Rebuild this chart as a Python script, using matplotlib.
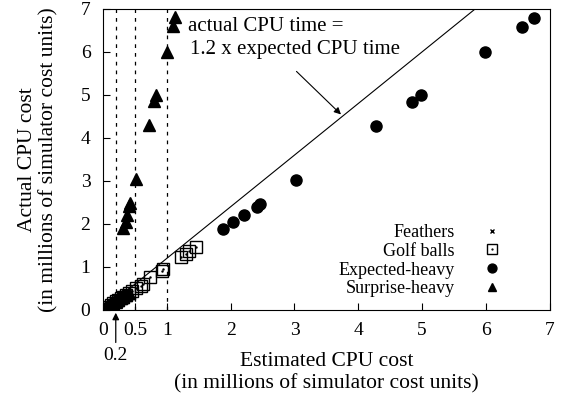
import matplotlib
matplotlib.use("Agg")
import matplotlib.pyplot as plt

plt.rcParams['font.family'] = ['Liberation Serif', 'DejaVu Serif']

# estimated vs actual CPU cost, millions of simulator cost units
feathers_x = [0.01, 0.02, 0.03, 0.04, 0.05, 0.06, 0.07, 0.08, 0.09, 0.10, 0.11, 0.12, 0.13, 0.15]
feathers_y = [0.01, 0.02, 0.03, 0.04, 0.05, 0.06, 0.07, 0.08, 0.09, 0.10, 0.11, 0.12, 0.13, 0.15]

golf_x = [0.08, 0.12, 0.16, 0.2, 0.24, 0.28, 0.32, 0.36, 0.40, 0.45, 0.52, 0.59, 0.63,
          0.74, 0.92, 0.94, 1.22, 1.30, 1.35, 1.46]
golf_y = [0.08, 0.12, 0.16, 0.2, 0.23, 0.27, 0.31, 0.35, 0.39, 0.44, 0.51, 0.56, 0.61,
          0.77, 0.91, 0.95, 1.24, 1.31, 1.38, 1.47]

exp_x = [0.05, 0.10, 0.14, 0.18, 0.22, 0.26, 0.30, 0.34,
         1.88, 2.03, 2.21, 2.41, 2.46, 3.02, 4.27, 4.84, 4.98, 5.99, 6.57, 6.76]
exp_y = [0.05, 0.10, 0.14, 0.18, 0.22, 0.26, 0.30, 0.34,
         1.89, 2.05, 2.21, 2.40, 2.47, 3.03, 4.27, 4.83, 4.99, 5.99, 6.57, 6.78]

surp_x = [0.03, 0.08, 0.12, 0.16, 0.2, 0.24, 0.28, 0.32, 0.36, 0.40,
          0.32, 0.36, 0.38, 0.40, 0.42, 0.51, 0.72, 0.80, 0.83, 1.0, 1.10, 1.13]
surp_y = [0.03, 0.08, 0.12, 0.15, 0.19, 0.23, 0.27, 0.31, 0.35, 0.40,
          1.90, 2.05, 2.21, 2.42, 2.49, 3.05, 4.29, 4.85, 5.0, 6.0, 6.6, 6.8]

slope = 1.2
guides = [0.2, 0.5, 1.0]
xticks = [0, 0.5, 1, 2, 3, 4, 5, 6, 7]
xticklabels = ['0', '0.5', '1', '2', '3', '4', '5', '6', '7']

fig = plt.figure(figsize=(5.61, 4.01), dpi=100)
ax = fig.add_axes([0.1836, 0.227, 0.7964, 0.751])

for g in guides:
    ax.axvline(g, color='black', lw=0.9, ls=(0, (3, 4)), zorder=1)
ax.plot([0, 7 / slope], [0, 7], color='black', lw=0.8, zorder=1)

h_f, = ax.plot(feathers_x, feathers_y, 'x', color='black', ms=4, mew=1.0, ls='none')
h_g, = ax.plot(golf_x, golf_y, 's', mfc='none', mec='black', ms=9, mew=1.0, ls='none')
h_gd, = ax.plot(golf_x, golf_y, '.', color='black', ms=1.5, ls='none')
h_e, = ax.plot(exp_x, exp_y, 'o', color='black', ms=8, ls='none')
h_s, = ax.plot(surp_x, surp_y, '^', color='black', ms=8, ls='none')

ax.set_xlim(0, 7)
ax.set_ylim(0, 7)
ax.set_xticks(xticks)
ax.set_xticklabels(xticklabels)
ax.set_yticks(range(8))
ax.tick_params(direction='in', length=5, labelsize=14, top=False, right=False)
ax.tick_params(axis='x', pad=9)
ax.tick_params(axis='y', pad=9)

ax.set_xlabel("Estimated CPU cost\n(in millions of simulator cost units)", fontsize=15.5,
              labelpad=9, linespacing=1.2)
ax.set_ylabel("Actual CPU cost\n(in millions of simulator cost units)", fontsize=15.5,
              labelpad=16, linespacing=1.15)

ax.text(1.33, 6.58, "actual CPU time =", fontsize=15, va='center', ha='left')
ax.text(1.36, 6.05, "1.2 x expected CPU time", fontsize=15, va='center', ha='left')
ax.annotate("", xy=(3.76, 4.5), xytext=(3.0, 5.59),
            arrowprops=dict(arrowstyle='-|>', color='black', lw=0.8, mutation_scale=10))

ax.annotate("", xy=(0.2, 0.0), xytext=(0.2, -0.82), annotation_clip=False,
            arrowprops=dict(arrowstyle='-|>', color='black', lw=0.9, mutation_scale=10))
ax.text(0.2, -1.05, "0.2", fontsize=14, ha='center', va='center', clip_on=False)

ax.legend([h_f, (h_g, h_gd), h_e, h_s],
          ["Feathers", "Golf balls", "Expected-heavy", "Surprise-heavy"],
          loc='lower right', bbox_to_anchor=(0.925, 0.0), frameon=False,
          markerfirst=False, fontsize=13, handlelength=1.3, handletextpad=1.4,
          labelspacing=0.1, borderaxespad=0.3, markerscale=0.8)

fig.savefig("out.png", dpi=100)
